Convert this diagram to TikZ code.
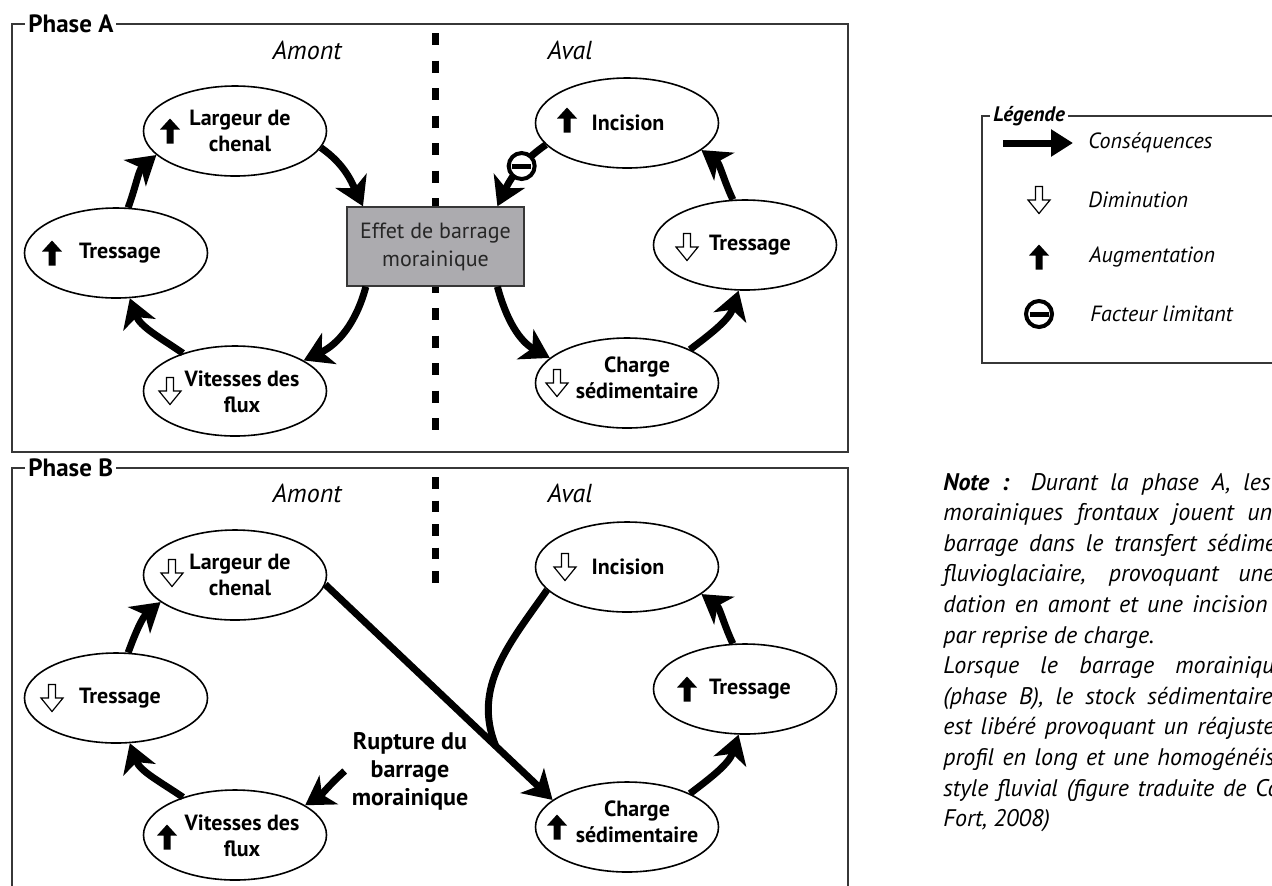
\documentclass[tikz,border=0pt]{standalone}
\usepackage{fontspec}
\setmainfont{PT Sans}
\usetikzlibrary{positioning,shapes.geometric,arrows.meta}

\definecolor{boxgray}{RGB}{172,171,175}
\definecolor{framegray}{RGB}{55,55,55}

\newcommand{\noteline}[3]{\makebox[#1][s]{#2\ }#3}

\tikzset{
  px/.style={x=0.5pt,y=-0.5pt},
  ell/.style={ellipse, draw, line width=0.8pt, minimum width=91.5pt, minimum height=45pt,
    inner sep=0pt},
  lab/.style={align=center, inner sep=0pt, font=\bfseries\fontsize{11}{13}\selectfont},
  barrage/.style={draw=framegray, line width=0.7pt, fill=boxgray, minimum width=88.5pt,
    minimum height=39.5pt, align=center, text=black!85, font=\fontsize{11}{14}\selectfont},
  cons/.style={line width=3.5pt, -{Stealth[length=14pt,width=17pt,inset=4pt]}},
  frame/.style={draw=framegray, line width=0.9pt},
  phase/.style={fill=white, inner xsep=1.5pt, inner ysep=0pt, anchor=west,
    font=\bfseries\fontsize{12.5}{14}\selectfont},
  side/.style={font=\itshape\fontsize{13}{15}\selectfont},
  limit/.style={circle, draw, line width=2pt, fill=white, minimum size=13pt, inner sep=0pt},
  divider/.style={line width=3.5pt},
  notetext/.style={anchor=base west, inner sep=0pt, font=\itshape\fontsize{12}{14}\selectfont},
  legtext/.style={anchor=west, inner sep=0pt, font=\itshape\fontsize{11}{13}\selectfont},
  hausse/.pic={\fill (0,-12.5) -- (10,-1.5) -- (3.5,-1.5) -- (3.5,12.5) -- (-3.5,12.5)
    -- (-3.5,-1.5) -- (-10,-1.5) -- cycle;},
  baisse/.pic={\draw[line width=0.6pt, fill=white] (-3.5,-13.5) -- (3.5,-13.5) -- (3.5,0)
    -- (11,0) -- (0,13.5) -- (-11,0) -- (-3.5,0) -- cycle;}
}

\begin{document}
\begin{tikzpicture}[px]
\useasboundingbox (0,0) rectangle (1272,885);
\clip (0,0) rectangle (1272,885);

\def\yb{444}

% Phase A
\draw[frame] (12,24) rectangle (848,452);
\node[phase] (pa) at (25,24) {Phase A};

\coordinate (da1) at (435,33);
\coordinate (da2) at (435,433);
\draw[divider, dash pattern=on 6pt off 7.75pt] (da1) -- (da2);

\node[side] (amA) at (307,50) {Amont};
\node[side] (avA) at (570,50) {Aval};

\node[ell, label={[lab, xshift=2.5pt]center:{Largeur de\\chenal}}] (la) at (235,131) {};
\node[ell, label={[lab, xshift=2pt]center:Tressage}] (lt) at (116,253) {};
\node[ell, label={[lab, xshift=3.5pt, yshift=-0.5pt]center:{Vitesses des\\flux}}] (lv) at (235,391) {};
\node[ell, label={[lab, xshift=0.5pt]center:Incision}] (ri) at (627,123) {};
\node[ell, label={[lab, xshift=2.5pt]center:Tressage}] (rt) at (745,245) {};
\node[ell, label={[lab, xshift=5pt, yshift=2.75pt]center:{Charge\\sédimentaire}}] (rc) at (627,383) {};
\node[barrage] (bx) at (435.5,246.5) {Effet de barrage\\morainique};

\pic at ([xshift=-32.5pt]la.center) {hausse};
\pic at ([xshift=-32pt]lt.center) {hausse};
\pic at ([xshift=-32.5pt]lv.center) {baisse};
\pic at ([xshift=-30pt,yshift=1.5pt]ri.center) {hausse};
\pic at ([xshift=-29pt,yshift=-1pt]rt.center) {baisse};
\pic at ([xshift=-35pt]rc.center) {baisse};

\draw[cons] (lt.75) to [out=70, in=220] (la.197);
\draw[cons] (la.349) to [out=-35, in=115] (bx.151);
\draw[cons] (bx.210) to [out=-105, in=25] (lv.24);
\draw[cons] (lv.144) to [out=146, in=290] (lt.287);

\draw[cons] (ri.195) to [out=215, in=65]
  node[limit, pos=0.4] (lim) {\rule[-1.25pt]{9.5pt}{2.5pt}} (bx.33);
\draw[cons] (bx.327) to [out=-75, in=151] (rc.162);
\draw[cons] (rc.28) to [out=37, in=252] (rt.262);
\draw[cons] (rt.105) to [out=115, in=-36] (ri.340);

% Phase B
\draw[frame] (12,24+\yb) rectangle (848,900);
\node[phase] (pb) at (25,24+\yb) {Phase B};

\coordinate (db1) at (435,477);
\coordinate (db2) at (435,584);
\draw[divider, dash pattern=on 5.75pt off 6pt] (db1) -- (db2);

\node[side] (amB) at (307,49+\yb) {Amont};
\node[side] (avB) at (570,49+\yb) {Aval};

\node[ell, label={[lab, xshift=2.5pt]center:{Largeur de\\chenal}}] (la2) at (235,131+\yb) {};
\node[ell, label={[lab, xshift=2pt]center:Tressage}] (lt2) at (116,254+\yb) {};
\node[ell, label={[lab, xshift=3.5pt, yshift=-0.5pt]center:{Vitesses des\\flux}}] (lv2) at (235,391+\yb) {};
\node[ell, label={[lab, xshift=0.5pt]center:Incision}] (ri2) at (627,123+\yb) {};
\node[ell, label={[lab, xshift=2.5pt]center:Tressage}] (rt2) at (745,245+\yb) {};
\node[ell, label={[lab, xshift=5pt, yshift=2.75pt]center:{Charge\\sédimentaire}}] (rc2) at (627,383+\yb) {};
\node[align=center, font=\bfseries\fontsize{12}{14}\selectfont] (ru) at (410,771)
  {Rupture du\\barrage\\morainique};

\pic at ([xshift=-31.5pt,yshift=1pt]la2.center) {baisse};
\pic at ([xshift=-32pt]lt2.center) {baisse};
\pic at ([xshift=-34pt,yshift=-1pt]lv2.center) {hausse};
\pic at ([xshift=-31pt]ri2.center) {baisse};
\pic at ([xshift=-29pt]rt2.center) {hausse};
\pic at ([xshift=-35pt]rc2.center) {hausse};

\draw[cons] (lt2.75) to [out=70, in=220] (la2.200);
\draw[cons] (lv2.144) to [out=146, in=290] (lt2.287);
\draw[cons] (ru.west) to [out=222, in=33] (lv2.23);

\draw[cons] (la2.354) -- coordinate[pos=0.75] (join) (rc2.160);
\draw[line width=3.5pt] (ri2.196) to [out=235, in=112] (join);
\draw[cons] (rc2.28) to [out=37, in=252] (rt2.262);
\draw[cons] (rt2.105) to [out=115, in=-36] (ri2.340);

% Legende
\draw[frame] (982,116) rectangle (1290,363);
\node[phase, font=\bfseries\itshape\fontsize{10.5}{13}\selectfont] (leg) at (990,116) {Légende};

\coordinate (c1) at (1003,143);
\coordinate (c2) at (1073,143);
\draw[line width=3.5pt, -{Triangle[length=11pt,width=13pt]}] (c1) -- (c2);
\pic at (1039,200) {baisse};
\pic at (1039,257) {hausse};
\node[limit] (lg4) at (1039,314) {\rule[-1.25pt]{9.5pt}{2.5pt}};

\node[legtext] (lg1) at (1088,143) {Conséquences};
\node[legtext] (lg2) at (1088,200) {Diminution};
\node[legtext] (lg3) at (1089,257) {Augmentation};
\node[legtext] (lg5) at (1090,314) {Facteur limitant};

% Note
\node[notetext] (n1) at (943,490) {\noteline{150pt}{\textbf{Note :} Durant la phase A,}{les}};
\node[notetext] (n2) at (943,520.6) {\noteline{152pt}{morainiques frontaux jouent}{un}};
\node[notetext] (n3) at (943,551.2) {\noteline{132pt}{barrage dans le transfert}{sédimentaire}};
\node[notetext] (n4) at (943,581.8) {\noteline{147.5pt}{fluvioglaciaire, provoquant}{une}};
\node[notetext] (n5) at (943,612.4) {\noteline{124.5pt}{dation en amont et une}{incision}};
\node[notetext] (n6) at (943,643) {par reprise de charge.};
\node[notetext] (n7) at (943,673.6) {\noteline{116pt}{Lorsque le barrage}{morainique}};
\node[notetext] (n8) at (943,704.2) {\noteline{102pt}{(phase B), le stock}{sédimentaire}};
\node[notetext] (n9) at (943,734.8) {\noteline{127pt}{est libéré provoquant un}{réajustement}};
\node[notetext] (n10) at (943,765.4) {\noteline{107pt}{profil en long et une}{homogénéisation}};
\node[notetext] (n11) at (943,796) {\noteline{156pt}{style fluvial (figure traduite de}{Cossart}};
\node[notetext] (n12) at (943,826.6) {Fort, 2008)};

\end{tikzpicture}
\end{document}
